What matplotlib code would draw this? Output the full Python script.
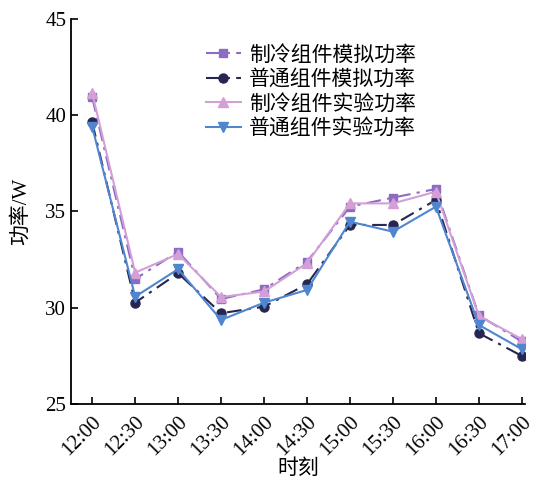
import matplotlib
matplotlib.use("Agg")
import matplotlib.pyplot as plt

plt.rcParams['font.family'] = ['Liberation Serif', 'Noto Sans CJK SC']

times = ["12:00", "12:30", "13:00", "13:30", "14:00", "14:30",
         "15:00", "15:30", "16:00", "16:30", "17:00"]
cool_sim = [40.93, 31.49, 32.91, 30.45, 30.95, 32.39, 35.25, 35.72, 36.17, 29.6, 28.24]
normal_sim = [39.63, 30.26, 31.79, 29.71, 30.05, 31.22, 34.3, 34.3, 35.6, 28.67, 27.49]
cool_exp = [41.15, 31.82, 32.79, 30.55, 30.84, 32.31, 35.42, 35.42, 36.03, 29.57, 28.36]
normal_exp = [39.4, 30.57, 32.0, 29.36, 30.26, 30.92, 34.47, 33.95, 35.25, 29.1, 27.84]

fig = plt.figure(figsize=(5.35, 4.79), dpi=100)
ax = fig.add_axes([0.133, 0.157, 0.848, 0.803])

x = list(range(len(times)))
ax.plot(x, cool_sim, color='#8b6cc2', linestyle=(0, (7, 3, 1.5, 3)), lw=1.5,
        marker='s', ms=5.5, label='制冷组件模拟功率')
ax.plot(x, normal_sim, color='#272650', linestyle=(0, (7, 3, 1.5, 3)), lw=1.5,
        marker='o', ms=6.5, label='普通组件模拟功率')
ax.plot(x, cool_exp, color='#d39fd6', linestyle='-', lw=1.5,
        marker='^', ms=7, label='制冷组件实验功率')
ax.plot(x, normal_exp, color='#4f86cf', linestyle='-', lw=1.5,
        marker='v', ms=7, label='普通组件实验功率')

ax.set_xlim(-0.49, 10.07)
ax.set_ylim(25, 45)
ax.set_yticks([25, 30, 35, 40, 45])
ax.set_xticks(x)
ax.set_xticklabels(times, rotation=45, ha='right', rotation_mode='anchor')
ax.tick_params(direction='in', labelsize=15, width=1.2, length=5)
ax.tick_params(axis='x', pad=6)
for s in ['top', 'right']:
    ax.spines[s].set_visible(False)
for s in ['left', 'bottom']:
    ax.spines[s].set_linewidth(1.3)

ax.set_xlabel('时刻', fontsize=15, labelpad=0)
ax.set_ylabel('功率/W', fontsize=15, labelpad=10)

ax.legend(loc='upper left', bbox_to_anchor=(0.255, 0.98), frameon=False,
          fontsize=15, handlelength=1.7, labelspacing=0.22, handletextpad=0.4)

fig.savefig('out.png', dpi=100)
